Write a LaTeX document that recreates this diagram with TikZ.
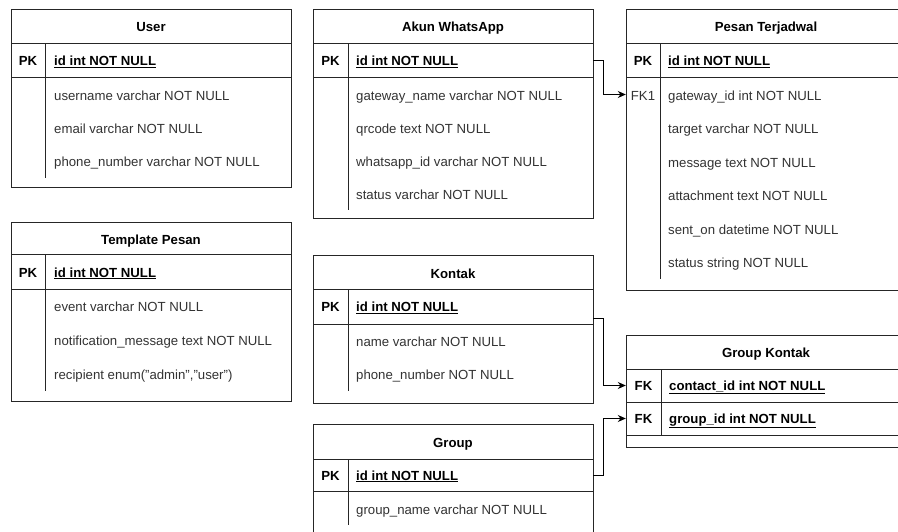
\documentclass[tikz,border=0pt]{standalone}
\usepackage{fontspec}
\setmainfont{Liberation Sans}
\usetikzlibrary{calc,arrows.meta}
\tikzset{
  tline/.style={draw=black!85, line width=1pt},
  txt/.style={inner sep=0pt, yshift=-1.5pt, text height=9.5pt, text depth=2.5pt, font=\fontsize{13.2}{16}\selectfont, text=black!80},
  fld/.style={txt, anchor=west},
  ttl/.style={txt, text=black, font=\fontsize{13.2}{16}\selectfont\bfseries},
  key/.style={ttl},
  keyfld/.style={ttl, anchor=west},
  rowbox/.style={draw=none, inner sep=0pt, minimum width=280pt},
  conn/.style={draw=black, line width=1pt, -{Stealth[length=8pt,width=7pt]}},
}
\begin{document}
\begin{tikzpicture}[x=1pt,y=-1pt]
\useasboundingbox (0,0) rectangle (898,532);
\fill[white] (0,0) rectangle (898,532);
\clip (0,0) rectangle (898,532);

% ---------- User ----------
\draw[tline] (11,10) rectangle (291,188);
\draw[tline] (11,44) -- (291,44) (11,78) -- (291,78) (45,44) -- (45,178);
\node[ttl] (uT) at (151,27) {User};
\node[key] (uPK) at (28,61) {PK};
\node[keyfld] (uId) at (54,61) {\underline{id int NOT NULL}};
\node[fld] (u1) at (54,95.5) {username varchar NOT NULL};
\node[fld] (u2) at (54,128.5) {email varchar NOT NULL};
\node[fld] (u3) at (54,161.5) {phone\_number varchar NOT NULL};

% ---------- Akun WhatsApp ----------
\draw[tline] (313,10) rectangle (593,219);
\draw[tline] (313,44) -- (593,44) (313,78) -- (593,78) (348,44) -- (348,210);
\node[rowbox, minimum height=34pt] (akpk) at (453,61) {};
\node[ttl] (aT) at (453,27) {Akun WhatsApp};
\node[key] (aPK) at (330.5,61) {PK};
\node[keyfld] (aId) at (356,61) {\underline{id int NOT NULL}};
\node[fld] (a1) at (356,95.5) {gateway\_name varchar NOT NULL};
\node[fld] (a2) at (356,128.5) {qrcode text NOT NULL};
\node[fld] (a3) at (356,162) {whatsapp\_id varchar NOT NULL};
\node[fld] (a4) at (356,195) {status varchar NOT NULL};

% ---------- Pesan Terjadwal ----------
\draw[tline] (626,10) rectangle (906,290);
\draw[tline] (626,44) -- (906,44) (626,78) -- (906,78) (660,44) -- (660,279);
\node[rowbox, minimum height=33pt] (ptfk) at (766,94.5) {};
\node[ttl] (pT) at (766,27) {Pesan Terjadwal};
\node[key] (pPK) at (643,61) {PK};
\node[keyfld] (pId) at (668,61) {\underline{id int NOT NULL}};
\node[txt] (pFK) at (643,95.5) {FK1};
\node[fld] (p1) at (668,95.5) {gateway\_id int NOT NULL};
\node[fld] (p2) at (668,129) {target varchar NOT NULL};
\node[fld] (p3) at (668,162.5) {message text NOT NULL};
\node[fld] (p4) at (668,196) {attachment text NOT NULL};
\node[fld] (p5) at (668,229.5) {sent\_on datetime NOT NULL};
\node[fld] (p6) at (668,263) {status string NOT NULL};

% ---------- Template Pesan ----------
\draw[tline] (11,223) rectangle (291,401);
\draw[tline] (11,255) -- (291,255) (11,289) -- (291,289) (45,255) -- (45,391);
\node[ttl] (tT) at (151,240) {Template Pesan};
\node[key] (tPK) at (28,272) {PK};
\node[keyfld] (tId) at (54,272) {\underline{id int NOT NULL}};
\node[fld] (t1) at (54,307) {event varchar NOT NULL};
\node[fld] (t2) at (54,340) {notification\_message text NOT NULL};
\node[fld] (t3) at (54,374) {recipient enum("admin","user")};

% ---------- Kontak ----------
\draw[tline] (313,256) rectangle (593,403);
\draw[tline] (313,289) -- (593,289) (313,324) -- (593,324) (348,289) -- (348,391);
\node[rowbox, minimum height=35pt] (kpk) at (453,306.5) {};
\node[ttl] (kT) at (453,273) {Kontak};
\node[key] (kPK) at (330.5,307) {PK};
\node[keyfld] (kId) at (356,307) {\underline{id int NOT NULL}};
\node[fld] (k1) at (356,341) {name varchar NOT NULL};
\node[fld] (k2) at (356,374) {phone\_number NOT NULL};

% ---------- Group ----------
\draw[tline] (313,424) rectangle (593,545);
\draw[tline] (313,459) -- (593,459) (313,491) -- (593,491) (348,459) -- (348,525);
\node[rowbox, minimum height=32pt] (gpk) at (453,475) {};
\node[ttl] (gT) at (453,442) {Group};
\node[key] (gPK) at (330.5,475) {PK};
\node[keyfld] (gId) at (356,475) {\underline{id int NOT NULL}};
\node[fld] (g1) at (356,509) {group\_name varchar NOT NULL};

% ---------- Group Kontak ----------
\draw[tline] (626,335) rectangle (906,447);
\draw[tline] (626,369) -- (906,369) (626,402) -- (906,402) (626,435) -- (906,435) (661,369) -- (661,435);
\node[rowbox, minimum height=33pt] (gkc) at (766,385.5) {};
\node[rowbox, minimum height=33pt] (gkg) at (766,418.5) {};
\node[ttl] (gkT) at (766,352) {Group Kontak};
\node[key] (gkF1) at (643.5,385.5) {FK};
\node[keyfld] (gkC) at (669,385.5) {\underline{contact\_id int NOT NULL}};
\node[key] (gkF2) at (643.5,418.5) {FK};
\node[keyfld] (gkG) at (669,418.5) {\underline{group\_id int NOT NULL}};

% ---------- connectors ----------
\draw[conn] (akpk.east) -- ++(10,0) |- (ptfk.west);
\draw[conn] ($(kpk.east)+(0,11.5)$) -- ++(10,0) |- (gkc.west);
\draw[conn] (gpk.east) -- ++(10,0) |- (gkg.west);
\end{tikzpicture}
\end{document}
